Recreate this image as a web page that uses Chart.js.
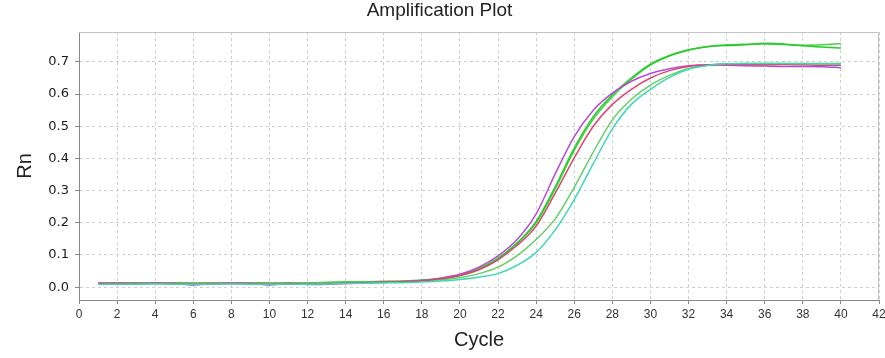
<!DOCTYPE html>
<html>
<head>
<meta charset="utf-8">
<script src="https://cdn.jsdelivr.net/npm/chart.js@4.4.1/dist/chart.umd.min.js"></script>
<style>
  html, body { margin: 0; padding: 0; background: #fff; }
  #wrap { width: 885px; height: 358px; }
</style>
</head>
<body>
<div id="wrap"><canvas id="amp"></canvas></div>
<script>
// cycle numbers and Rn readings per well
const cycles = [1, 2, 3, 4, 5, 6, 7, 8, 9, 10, 11, 12, 13, 14, 15, 16, 17, 18, 19, 20,
    21, 22, 23, 24, 25, 26, 27, 28, 29, 30, 31, 32, 33, 34, 35, 36, 37, 38, 39, 40];

const rnPurple = [0.012, 0.012, 0.011, 0.012, 0.011, 0.007, 0.010, 0.012, 0.011, 0.007,
    0.011, 0.008, 0.009, 0.011, 0.014, 0.015, 0.017, 0.021, 0.028, 0.040,
    0.062, 0.097, 0.148, 0.228, 0.352, 0.468, 0.550, 0.603, 0.640, 0.664,
    0.679, 0.688, 0.691, 0.690, 0.688, 0.687, 0.686, 0.686, 0.685, 0.682];
const rnRed = [0.011, 0.011, 0.011, 0.012, 0.011, 0.010, 0.011, 0.011, 0.011, 0.010,
    0.011, 0.010, 0.011, 0.012, 0.014, 0.015, 0.017, 0.020, 0.026, 0.036,
    0.054, 0.085, 0.130, 0.190, 0.292, 0.402, 0.500, 0.568, 0.615, 0.650,
    0.673, 0.686, 0.690, 0.692, 0.692, 0.691, 0.692, 0.691, 0.690, 0.690];
const rnCyan = [0.009, 0.009, 0.009, 0.010, 0.009, 0.009, 0.009, 0.010, 0.009, 0.009,
    0.009, 0.009, 0.010, 0.011, 0.012, 0.013, 0.014, 0.016, 0.019, 0.024,
    0.031, 0.042, 0.068, 0.108, 0.178, 0.272, 0.384, 0.492, 0.568, 0.615,
    0.652, 0.677, 0.689, 0.694, 0.695, 0.695, 0.695, 0.694, 0.694, 0.693];
const rnLightGreen = [0.012, 0.012, 0.012, 0.013, 0.012, 0.012, 0.013, 0.013, 0.012, 0.012,
    0.013, 0.012, 0.013, 0.014, 0.015, 0.016, 0.017, 0.019, 0.023, 0.030,
    0.042, 0.062, 0.098, 0.148, 0.212, 0.310, 0.420, 0.520, 0.584, 0.628,
    0.658, 0.680, 0.690, 0.694, 0.695, 0.695, 0.695, 0.695, 0.695, 0.695];
const rnGreenA = [0.013, 0.013, 0.013, 0.014, 0.014, 0.013, 0.014, 0.014, 0.014, 0.013,
    0.014, 0.014, 0.015, 0.016, 0.017, 0.018, 0.019, 0.022, 0.028, 0.038,
    0.058, 0.090, 0.138, 0.200, 0.305, 0.425, 0.522, 0.592, 0.646, 0.690,
    0.718, 0.736, 0.748, 0.753, 0.755, 0.756, 0.754, 0.752, 0.753, 0.757];
const rnGreenB = [0.012, 0.013, 0.012, 0.013, 0.013, 0.012, 0.013, 0.013, 0.013, 0.012,
    0.013, 0.013, 0.014, 0.015, 0.016, 0.017, 0.018, 0.021, 0.027, 0.037,
    0.056, 0.088, 0.136, 0.204, 0.312, 0.432, 0.530, 0.598, 0.650, 0.693,
    0.720, 0.738, 0.747, 0.751, 0.753, 0.758, 0.756, 0.750, 0.746, 0.743];

const yTicks = [0, 0.1, 0.2, 0.3, 0.4, 0.5, 0.6, 0.7];
const xTicks = [0, 2, 4, 6, 8, 10, 12, 14, 16, 18, 20, 22, 24, 26, 28, 30, 32, 34, 36, 38, 40, 42];

function toPoints(arr) {
    return cycles.map((c, i) => ({ x: c, y: arr[i] }));
}

function series(arr, color) {
    return {
        data: toPoints(arr),
        borderColor: color,
        borderWidth: 1.5,
        pointRadius: 0,
        fill: false,
        cubicInterpolationMode: 'monotone'
    };
}

// light frame on the top and right sides of the plot
const frame = {
    id: 'frame',
    afterDraw(chart) {
        const { ctx, chartArea: a } = chart;
        ctx.save();
        ctx.strokeStyle = '#c4c4c4';
        ctx.lineWidth = 1;
        ctx.beginPath();
        ctx.moveTo(a.left, a.top + 0.5);
        ctx.lineTo(a.right - 0.5, a.top + 0.5);
        ctx.lineTo(a.right - 0.5, a.bottom);
        ctx.stroke();
        ctx.restore();
    }
};

new Chart(document.getElementById('amp'), {
    type: 'line',
    data: {
        datasets: [
            series(rnCyan, '#3fd8b6'),
            series(rnRed, '#d8486e'),
            series(rnPurple, '#b64ad6'),
            series(rnLightGreen, '#62d062'),
            series(rnGreenB, '#2cc82c'),
            series(rnGreenA, '#40d640')
        ]
    },
    options: {
        responsive: true,
        maintainAspectRatio: false,
        animation: false,
        layout: { padding: { left: 0, right: 6, top: 0, bottom: 0 } },
        plugins: {
            legend: { display: false },
            tooltip: { enabled: false },
            title: {
                display: true,
                text: 'Amplification Plot',
                color: '#222',
                font: { family: 'Liberation Sans', size: 19, weight: 'normal', lineHeight: 1 },
                padding: { top: 1, bottom: 12 }
            }
        },
        scales: {
            x: {
                type: 'linear',
                min: 0,
                max: 42,
                afterBuildTicks: s => { s.ticks = xTicks.map(v => ({ value: v })); },
                afterFit: s => { s.height = 58; s.paddingLeft = 0; s.paddingRight = 0; },
                grid: { color: '#cfcfcf', tickColor: '#888', tickLength: 4, tickBorderDash: [] },
                border: { display: true, color: '#888', dash: [3, 3] },
                ticks: {
                    color: '#333',
                    padding: 3,
                    maxRotation: 0,
                    font: { family: 'Liberation Sans Narrow, Liberation Sans', size: 12 }
                },
                title: {
                    display: true,
                    text: 'Cycle',
                    color: '#222',
                    font: { family: 'Liberation Sans', size: 20 },
                    padding: { top: 0, bottom: 6 }
                }
            },
            y: {
                type: 'linear',
                min: -0.04,
                max: 0.793,
                afterBuildTicks: s => { s.ticks = yTicks.map(v => ({ value: v })); },
                afterFit: s => { s.width = 79; },
                grid: { color: '#cfcfcf', tickColor: '#888', tickLength: 4, tickBorderDash: [] },
                border: { display: true, color: '#888', dash: [3, 3] },
                ticks: {
                    color: '#1a1a1a',
                    padding: 6,
                    font: { family: 'DejaVu Sans', size: 13 },
                    callback: v => v.toFixed(1)
                },
                title: {
                    display: true,
                    text: 'Rn',
                    color: '#222',
                    font: { family: 'Liberation Sans', size: 20 },
                    padding: { top: 13, bottom: 0 }
                }
            }
        }
    },
    plugins: [frame]
});
</script>
</body>
</html>
